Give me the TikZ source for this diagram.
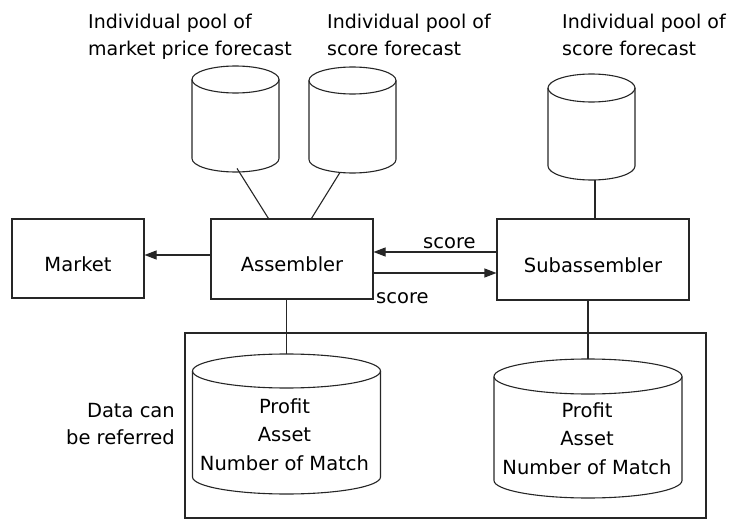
\documentclass[tikz,border=0pt]{standalone}
\usepackage{fontspec}
\setmainfont{DejaVu Sans}
\usetikzlibrary{arrows.meta,calc}
\tikzset{
  ln/.style={line width=1.1pt, draw=black!85},
  arr/.style={ln, -{Triangle[length=12pt,width=9pt]}},
  boxnode/.style={ln, rectangle, inner sep=0pt, text height=25pt, text depth=0pt},
  txt/.style={inner sep=0pt},
  toptxt/.style={inner sep=0pt, align=left, anchor=north west, font=\fontsize{19}{27}\selectfont},
  dbtxt/.style={inner sep=0pt, align=center, anchor=north, font=\fontsize{19.5}{28.5}\selectfont},
}
% name, cx, ytop, ybot, rx, ry  (pixel coordinates, y downwards)
\newcommand{\dbcyl}[6]{%
  \node[inner sep=0pt, minimum width=#5*2, minimum height=#4-#3, anchor=north] (#1) at (#2,-#3) {};
  \draw[ln] (#2-#5,-#3-#6) -- (#2-#5,-#4+#6)
     arc[start angle=180, end angle=360, x radius=#5, y radius=#6] -- (#2+#5,-#3-#6);
  \draw[ln] (#2,-#3-#6) ellipse[x radius=#5, y radius=#6];
}
\begin{document}
\begin{tikzpicture}[x=1pt,y=1pt, font=\fontsize{19.5}{27}\selectfont]
\useasboundingbox (0,0) rectangle (732,-519);

% boxes
\node[boxnode, minimum width=132, minimum height=79] (mkt) at (78,-258.5) {Market};
\node[boxnode, minimum width=162, minimum height=80] (asm) at (292,-259) {Assembler};
\node[boxnode, minimum width=192, minimum height=81] (sub) at (593,-259.5) {Subassembler};
\node[ln, rectangle, inner sep=0pt, minimum width=521, minimum height=185] (db) at (445.5,-425.5) {};

% cylinders
\dbcyl{p1}{235.5}{66}{172}{43.5}{13.5}
\dbcyl{p2}{352.5}{67}{173}{43.5}{13.5}
\dbcyl{p3}{591.5}{74}{180}{43.5}{14}
\dbcyl{c1}{286.5}{354}{494}{94}{17}
\dbcyl{c2}{588}{359}{498}{94}{17.5}

% labels
\node[toptxt] (l1) at (88,-13.6) {Individual pool of\\market price forecast};
\node[toptxt] (l2) at (327,-13.6) {Individual pool of\\score forecast};
\node[toptxt] (l3) at (562,-13.6) {Individual pool of\\score forecast};
\node[dbtxt] (t1) at (284.5,-398.2) {Profit\\Asset\\Number of Match};
\node[dbtxt] (t2) at (587,-402.2) {Profit\\Asset\\Number of Match};
\node[txt, align=right, anchor=north east] (dr) at (175,-402.8) {Data can\\be referred};
\node[txt, anchor=base west] (s1) at (423,-248) {score};
\node[txt, anchor=base west] (s2) at (376,-303) {score};

% connectors
\draw[arr] ([yshift=4pt]asm.west) -- ([yshift=4pt]asm.west -| mkt.east);
\draw[arr] ([yshift=7pt]asm.east -| sub.west) -- ([yshift=7pt]asm.east);
\draw[arr] ([yshift=-14pt]asm.east) -- ([yshift=-14pt]asm.east -| sub.west);
\draw[ln] ([xshift=1.5pt,yshift=4pt]p1.south) -- ([xshift=58pt]asm.north west);
\draw[ln] ([xshift=-12.5pt,yshift=1pt]p2.south) -- ([xshift=101pt]asm.north west);
\draw[ln] ([xshift=3.5pt]p3.south) -- ([xshift=3.5pt]p3.south |- sub.north);
\draw[ln] (c1.north) -- (c1.north |- asm.south);
\draw[ln] (c2.north) -- (c2.north |- sub.south);
\end{tikzpicture}
\end{document}
